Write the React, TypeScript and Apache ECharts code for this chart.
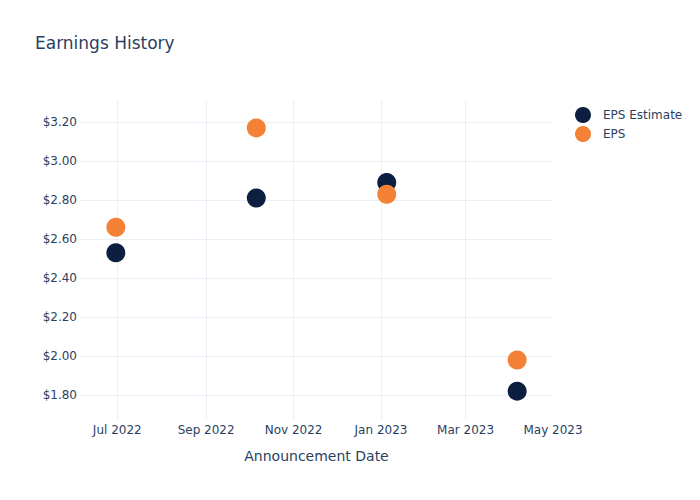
import React, { useEffect, useRef } from "react";
import * as echarts from "echarts";

const dates = ["2022-06-30", "2022-10-06", "2023-01-05", "2023-04-06"];
const epsEstimate = [2.53, 2.81, 2.89, 1.82];
const epsActual = [2.66, 3.17, 2.83, 1.98];
const seriesNames = ["EPS Estimate", "EPS"];
const monthNames = ["Jan", "Feb", "Mar", "Apr", "May", "Jun", "Jul", "Aug", "Sep", "Oct", "Nov", "Dec"];

const FONT = "DejaVu Sans";
const TEXT = "#2a3f5f";
const GRID = "#ebf0f8";
const NONE = "rgba(0,0,0,0)";

export default function App() {
  const ref = useRef<HTMLDivElement>(null);
  useEffect(() => {
    if (!ref.current) return;
    const chart = echarts.init(ref.current, undefined, { renderer: "svg" });
    chart.setOption({
      animation: false,
      backgroundColor: "#ffffff",
      textStyle: { fontFamily: FONT },
      title: {
        text: "Earnings History",
        left: 35,
        top: 34,
        padding: 0,
        textStyle: { fontFamily: FONT, fontSize: 17, fontWeight: "normal", color: TEXT },
      },
      legend: {
        orient: "vertical",
        left: 570,
        top: 102,
        itemWidth: 30,
        itemHeight: 16,
        itemGap: 3,
        icon: "circle",
        data: seriesNames,
        textStyle: { fontFamily: FONT, fontSize: 12, color: TEXT },
      },
      grid: { left: 80, right: 147, top: 100, bottom: 80, containLabel: false },
      xAxis: {
        type: "time",
        min: "2022-06-05",
        max: "2023-05-01",
        splitNumber: 5,
        name: "Announcement Date",
        nameLocation: "middle",
        nameGap: 29,
        nameTextStyle: { fontFamily: FONT, fontSize: 14, color: TEXT },
        axisLine: { show: false },
        axisTick: { show: false },
        splitLine: {
          show: true,
          showMinLine: false,
          showMaxLine: false,
          lineStyle: { color: [GRID, GRID, GRID, GRID, GRID, NONE], width: 1 },
        },
        axisLabel: {
          showMinLabel: false,
          margin: 4,
          fontFamily: FONT,
          fontSize: 12,
          color: TEXT,
          formatter: (v: number) => {
            const d = new Date(v);
            return monthNames[d.getMonth()] + " " + d.getFullYear();
          },
        },
      },
      yAxis: {
        type: "value",
        min: 1.672,
        max: 3.313,
        splitNumber: 8,
        axisLine: { show: false },
        axisTick: { show: false },
        splitLine: {
          show: true,
          showMinLine: false,
          showMaxLine: false,
          lineStyle: { color: GRID, width: 1 },
        },
        axisLabel: {
          showMinLabel: false,
          showMaxLabel: false,
          margin: 3,
          fontFamily: FONT,
          fontSize: 12,
          color: TEXT,
          formatter: (v: number) => "$" + v.toFixed(2),
        },
      },
      series: [
        {
          name: seriesNames[0],
          type: "scatter",
          symbolSize: 19,
          itemStyle: { color: "#0c1f40", opacity: 1 },
          data: dates.map((d, i) => [d, epsEstimate[i]]),
        },
        {
          name: seriesNames[1],
          type: "scatter",
          symbolSize: 19,
          itemStyle: { color: "#f58136", opacity: 1 },
          data: dates.map((d, i) => [d, epsActual[i]]),
        },
      ],
    });
    return () => chart.dispose();
  }, []);
  return (
    <div
      ref={ref}
      style={{ position: "absolute", left: 0, top: 0, width: 700, height: 500 }}
    />
  );
}
